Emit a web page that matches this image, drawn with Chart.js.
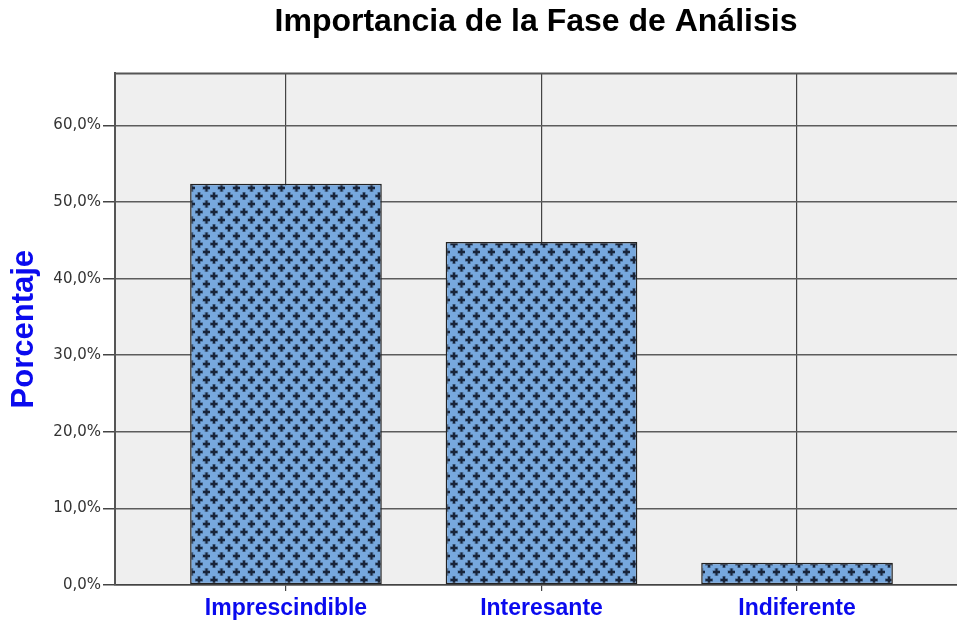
<!DOCTYPE html>
<html>
<head>
<meta charset="utf-8">
<script src="https://cdn.jsdelivr.net/npm/chart.js@4"></script>
<style>
  html, body { margin: 0; padding: 0; background: #fff; overflow: hidden; }
  #wrap { width: 957px; height: 625px; }
</style>
</head>
<body>
<div id="wrap"><canvas id="chart" width="957" height="625"></canvas></div>
<script>
// Data
const categories = ['Imprescindible', 'Interesante', 'Indiferente'];
const percentages = [52.4, 44.8, 2.9];
const yTicks = [0, 10, 20, 30, 40, 50, 60];

// crosses pattern like the SPSS fill
function makePattern() {
    const c = document.createElement('canvas');
    c.width = 15; c.height = 16;
    const g = c.getContext('2d');
    g.fillStyle = '#77a8de';
    g.fillRect(0, 0, 15, 16);
    // soft halo around each cross
    g.fillStyle = 'rgba(40,60,90,0.35)';
    [[4, 4], [11.5, 12]].forEach(([x, y]) => {
        g.fillRect(x - 4, y - 2, 8, 4);
        g.fillRect(x - 2, y - 4, 4, 8);
    });
    g.fillStyle = '#18243a';
    [[4, 4], [11.5, 12]].forEach(([x, y]) => {
        g.fillRect(x - 3.5, y - 1, 7, 2);
        g.fillRect(x - 1, y - 3.5, 2, 7);
    });
    return g.createPattern(c, 'repeat');
}

// plot background + top frame line
const plotFrame = {
    id: 'plotFrame',
    beforeDraw(chart) {
        const { ctx, chartArea: a } = chart;
        ctx.save();
        ctx.fillStyle = '#efefef';
        ctx.fillRect(a.left, a.top, a.right - a.left, a.bottom - a.top);
        ctx.restore();
    },
    afterDraw(chart) {
        const { ctx, chartArea: a } = chart;
        ctx.save();
        ctx.strokeStyle = '#555';
        ctx.lineWidth = 2;
        ctx.beginPath();
        ctx.moveTo(a.left, a.top);
        ctx.lineTo(a.right, a.top);
        ctx.stroke();
        ctx.restore();
    }
};

const ctx = document.getElementById('chart').getContext('2d');
new Chart(ctx, {
    type: 'bar',
    data: {
        datasets: [{
            data: percentages.map((v, i) => ({ x: i, y: v })),
            backgroundColor: makePattern(),
            borderColor: '#222',
            borderWidth: 1.5,
            borderSkipped: false,
            categoryPercentage: 1,
            barPercentage: 0.75
        }]
    },
    options: {
        responsive: false,
        animation: false,
        layout: { padding: 0 },
        plugins: {
            legend: { display: false },
            tooltip: { enabled: false },
            title: {
                display: true,
                text: 'Importancia de la Fase de Análisis',
                fullSize: false,
                align: 'center',
                color: '#000',
                font: { family: 'Liberation Sans, Arial, sans-serif', size: 32, weight: 'bold' },
                padding: { top: 3, bottom: 32 }
            }
        },
        scales: {
            x: {
                type: 'linear',
                offset: false,
                min: -0.669,
                max: 2.626,
                afterBuildTicks: s => { s.ticks = categories.map((c, i) => ({ value: i })); },
                afterFit: s => { s.height = 40; },
                grid: { offset: false, color: '#444', lineWidth: 1.2, tickLength: 6, tickColor: '#444' },
                border: { color: '#444', width: 1.5 },
                ticks: {
                    callback: v => categories[v] || '',
                    color: '#0a0aee',
                    font: { family: 'Liberation Sans, Arial, sans-serif', size: 23, weight: 'bold' },
                    padding: 4,
                    maxRotation: 0,
                    autoSkip: false
                }
            },
            y: {
                min: 0,
                max: 66.8,
                afterBuildTicks: s => { s.ticks = yTicks.map(v => ({ value: v })); },
                afterFit: s => { s.width = 115; },
                grid: { color: '#5c5c5c', lineWidth: 1.5, tickLength: 12, tickColor: '#444' },
                border: { color: '#555', width: 2 },
                title: {
                    display: true,
                    text: 'Porcentaje',
                    color: '#0a0aee',
                    font: { family: 'Liberation Sans, Arial, sans-serif', size: 31, weight: 'bold' },
                    padding: { top: 6, bottom: 0 }
                },
                ticks: {
                    callback: v => v.toFixed(1).replace('.', ',') + '%',
                    color: '#333',
                    font: { family: 'DejaVu Sans, sans-serif', size: 15 },
                    padding: 2
                }
            }
        }
    },
    plugins: [plotFrame]
});
</script>
</body>
</html>
